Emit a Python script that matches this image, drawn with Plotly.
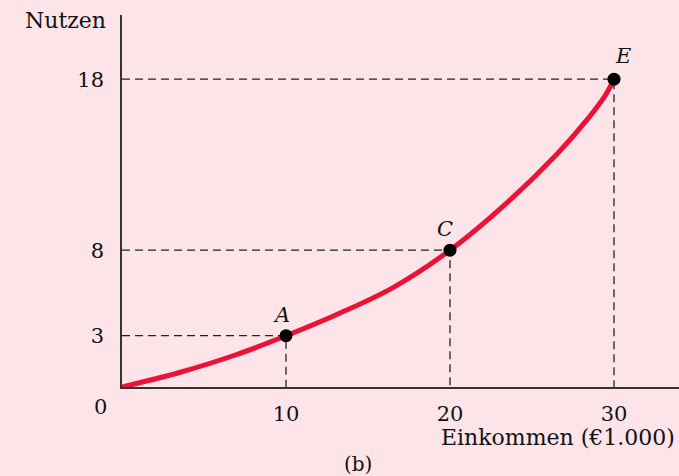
import plotly.graph_objects as go

# Curve (Einkommen in €1.000, Nutzen)
curve_x = [0, 3.5, 7, 10, 13, 16.5, 20, 23.5, 26.5, 28.5, 29.5, 30]
curve_y = [0, 0.85, 1.9, 3, 4.2, 5.8, 8, 10.8, 13.6, 15.8, 17.1, 18]

# Marked points
pt_labels = ["A", "C", "E"]
pt_x = [10, 20, 30]
pt_y = [3, 8, 18]

x_ticks = [10, 20, 30]
y_ticks = [3, 8, 18]

BG = "#FCE4E8"
RED = "#EA1236"
SERIF = "DejaVu Serif, Liberation Serif, serif"
FS = 21

fig = go.Figure()

# Dashed guide lines
for px, py in zip(pt_x, pt_y):
    fig.add_trace(go.Scatter(x=[0, px, px], y=[py, py, 0], mode="lines",
                             line=dict(color="#222222", width=1.3, dash="8px,5px"),
                             hoverinfo="skip", showlegend=False))

fig.add_trace(go.Scatter(x=curve_x, y=curve_y, mode="lines",
                         line=dict(color=RED, width=5, shape="spline", smoothing=1.0),
                         showlegend=False))

fig.add_trace(go.Scatter(x=pt_x, y=pt_y, mode="markers",
                         marker=dict(color="black", size=13),
                         showlegend=False))

for lab, px, py in zip(pt_labels, pt_x, pt_y):
    fig.add_annotation(x=px, y=py, text=f"<i>{lab}</i>", showarrow=False,
                       xanchor="center", yanchor="bottom", xshift=-5 if lab != "E" else 9,
                       yshift=7 if lab != "E" else 9, font=dict(family=SERIF, size=FS, color="#111"))

fig.add_annotation(x=0, y=0, text="0", showarrow=False, xanchor="center", yanchor="top",
                   xshift=-22, yshift=-6, font=dict(family=SERIF, size=FS, color="#111"))
fig.add_annotation(xref="paper", yref="paper", x=-14 / 557, y=1.0, text="Nutzen", showarrow=False,
                   xanchor="right", yanchor="middle", yshift=-5,
                   font=dict(family=SERIF, size=22, color="#111"))
fig.add_annotation(xref="paper", yref="paper", x=1.0, y=0, text="Einkommen (€1.000)",
                   showarrow=False, xanchor="right", yanchor="top", xshift=-2, yshift=-36,
                   font=dict(family=SERIF, size=22, color="#111"))
fig.add_annotation(xref="paper", yref="paper", x=(358 - 122) / 557, y=0, text="(b)",
                   showarrow=False, xanchor="center", yanchor="top", yshift=-63,
                   font=dict(family=SERIF, size=20, color="#111"))

fig.update_layout(
    width=679, height=476,
    margin=dict(l=122, r=0, t=15, b=89),
    paper_bgcolor=BG, plot_bgcolor=BG,
    xaxis=dict(range=[0, 557 / 16.4], showgrid=False, zeroline=False,
               showline=True, linecolor="#333", linewidth=1.5,
               tickvals=x_ticks, ticktext=[str(v) for v in x_ticks], ticks="",
               ticklabelstandoff=7,
               tickfont=dict(family=SERIF, size=FS, color="#111")),
    yaxis=dict(range=[0, 372 / 17.1], showgrid=False, zeroline=False,
               showline=True, linecolor="#333", linewidth=1.5,
               tickvals=y_ticks, ticktext=[str(v) for v in y_ticks], ticks="",
               ticklabelstandoff=12,
               tickfont=dict(family=SERIF, size=FS, color="#111")),
)

fig.write_html("out.html", config={"displayModeBar": False},
               post_script="document.body.style.margin='0';document.body.style.background='" + BG + "';")
